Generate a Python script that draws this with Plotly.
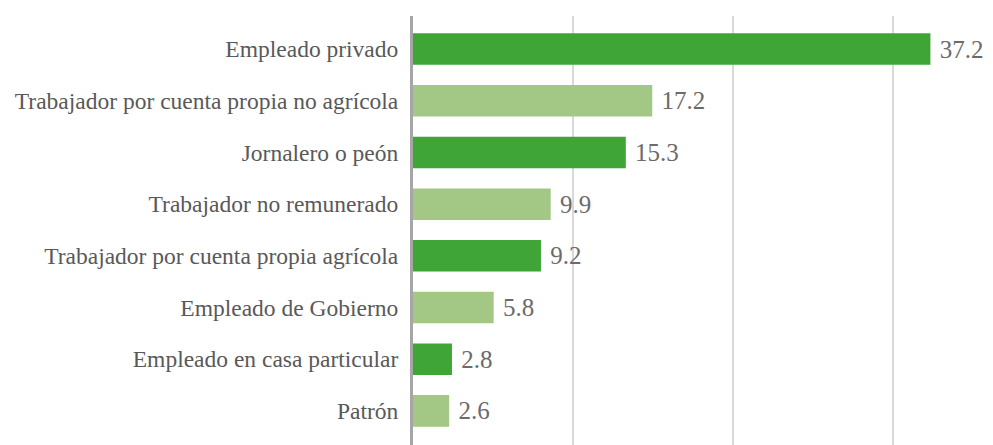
import plotly.graph_objects as go

categories = [
    "Empleado privado",
    "Trabajador por cuenta propia no agrícola",
    "Jornalero o peón",
    "Trabajador no remunerado",
    "Trabajador por cuenta propia agrícola",
    "Empleado de Gobierno",
    "Empleado en casa particular",
    "Patrón",
]
values = [37.2, 17.2, 15.3, 9.9, 9.2, 5.8, 2.8, 2.6]
value_labels = ["37.2", "17.2", "15.3", "9.9", "9.2", "5.8", "2.8", "2.6"]

DARK = "#3EA536"
LIGHT = "#A3C785"
colors = [DARK if i % 2 == 0 else LIGHT for i in range(len(values))]

fig = go.Figure(
    go.Bar(
        x=values,
        y=categories,
        orientation="h",
        marker=dict(color=colors, line=dict(width=0)),
        width=0.61,
        text=value_labels,
        texttemplate="\u00a0%{text}",
        textposition="outside",
        textfont=dict(family="Liberation Serif", size=25, color="#6b6b6b"),
        cliponaxis=False,
        hoverinfo="skip",
    )
)

fig.update_layout(
    width=985,
    height=437,
    margin=dict(l=405, r=0, t=8, b=0),
    paper_bgcolor="white",
    plot_bgcolor="white",
    showlegend=False,
)

fig.update_xaxes(
    range=[0, 41.7],
    tickvals=[11.5, 23, 34.5],
    showticklabels=False,
    showgrid=True,
    gridcolor="#D9D9D9",
    gridwidth=1.5,
    zeroline=False,
    showline=False,
    fixedrange=True,
)

fig.update_yaxes(
    categoryorder="array",
    categoryarray=categories,
    autorange=False,
    range=[7.66, -0.64],
    showline=True,
    linecolor="#A6A6A6",
    linewidth=3,
    showgrid=False,
    ticks="outside",
    ticklen=7,
    tickcolor="rgba(0,0,0,0)",
    tickfont=dict(family="Liberation Serif", size=23.5, color="#595959"),
    automargin=False,
    fixedrange=True,
)

fig.write_html("out.html")
